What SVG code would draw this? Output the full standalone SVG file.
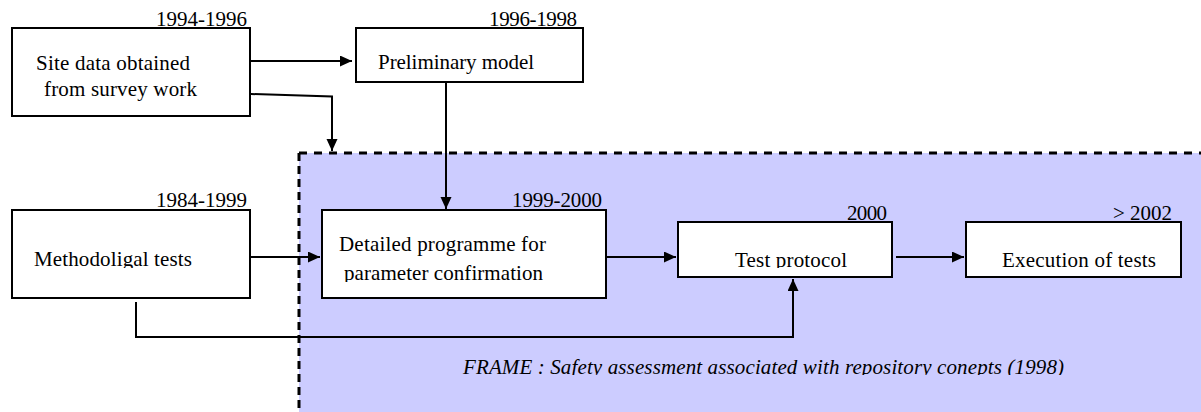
<svg xmlns="http://www.w3.org/2000/svg" width="1201" height="412" viewBox="0 0 1201 412">
<defs>
<style>
.box{fill:#fff;stroke:#000;stroke-width:2}
.t{font-family:"Liberation Serif","Times New Roman",serif;font-size:21px;fill:#000}
.it{font-family:"Liberation Serif","Times New Roman",serif;font-size:21px;font-style:italic;fill:#000}
.c{fill:none;stroke:#000;stroke-width:2}
</style>
<marker id="ah" markerUnits="userSpaceOnUse" markerWidth="13" markerHeight="12" refX="12" refY="5.5" orient="auto">
<path d="M0,0 L12,5.5 L0,11 z" fill="#000"/>
</marker>
<clipPath id="cMeth"><rect x="12" y="240" width="238" height="28"/></clipPath>
<clipPath id="cParam"><rect x="322" y="262" width="284" height="20"/></clipPath>
<clipPath id="cTest"><rect x="678" y="240" width="214" height="28"/></clipPath>
<clipPath id="cFrame"><rect x="440" y="350" width="660" height="25"/></clipPath>
</defs>
<rect width="1201" height="412" fill="#fff"/>
<g id="frame">
<rect x="299" y="153" width="902" height="259" fill="#CCCCFF"/>
<path d="M299,153 H1201" fill="none" stroke="#000" stroke-width="3" stroke-dasharray="8 7"/>
<path d="M299,153 V412" fill="none" stroke="#000" stroke-width="3" stroke-dasharray="8 5"/>
<text class="it" x="463" y="374" textLength="601" lengthAdjust="spacing" clip-path="url(#cFrame)">FRAME : Safety assessment associated with repository  conepts (1998)</text>
</g>
<g id="connectors">
<path class="c" d="M251,61 H352" marker-end="url(#ah)"/>
<path class="c" d="M251,94 L332,96.5 V151" marker-end="url(#ah)"/>
<path class="c" d="M446,82 V209" marker-end="url(#ah)"/>
<path class="c" d="M251,257 H320" marker-end="url(#ah)"/>
<path class="c" d="M606,257 H676" marker-end="url(#ah)"/>
<path class="c" d="M896,257 H964" marker-end="url(#ah)"/>
<path class="c" d="M136,302 V337 H793 V279" marker-end="url(#ah)"/>
</g>
<g id="node-site">
<rect class="box" x="12" y="28" width="238" height="88"/>
<text class="t" x="156" y="26" textLength="91" lengthAdjust="spacing">1994-1996</text>
<text class="t" x="36" y="70" textLength="154" lengthAdjust="spacing">Site data obtained</text>
<text class="t" x="44" y="96" textLength="153" lengthAdjust="spacing">from survey work</text>
</g>
<g id="node-prelim">
<rect class="box" x="356" y="28" width="227" height="54"/>
<text class="t" x="489" y="26" textLength="88" lengthAdjust="spacing">1996-1998</text>
<text class="t" x="378" y="69" textLength="156" lengthAdjust="spacing">Preliminary model</text>
</g>
<g id="node-method">
<rect class="box" x="12" y="210" width="238" height="88"/>
<text class="t" x="156" y="207" textLength="91" lengthAdjust="spacing">1984-1999</text>
<text class="t" x="34" y="266" textLength="158" lengthAdjust="spacing" clip-path="url(#cMeth)">Methodoligal tests</text>
</g>
<g id="node-detailed">
<rect class="box" x="322" y="210" width="284" height="88"/>
<text class="t" x="512" y="207" textLength="90" lengthAdjust="spacing">1999-2000</text>
<text class="t" x="339" y="251" textLength="207" lengthAdjust="spacing">Detailed programme for</text>
<text class="t" x="344" y="280" textLength="199" lengthAdjust="spacing" clip-path="url(#cParam)">parameter confirmation</text>
</g>
<g id="node-protocol">
<rect class="box" x="678" y="222" width="214" height="55"/>
<text class="t" x="847" y="220" textLength="40" lengthAdjust="spacing">2000</text>
<text class="t" x="735" y="267" textLength="112" lengthAdjust="spacing" clip-path="url(#cTest)">Test protocol</text>
</g>
<g id="node-exec">
<rect class="box" x="966" y="222" width="215" height="55"/>
<text class="t" x="1113" y="220" textLength="59" lengthAdjust="spacing">&gt; 2002</text>
<text class="t" x="1002" y="267" textLength="154" lengthAdjust="spacing">Execution of tests</text>
</g>
</svg>
